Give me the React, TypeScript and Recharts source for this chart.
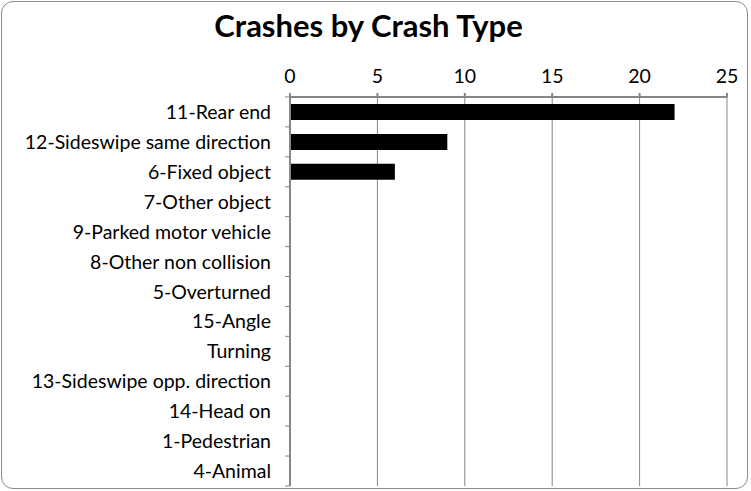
import React from 'react';
import { BarChart, Bar, XAxis, YAxis, CartesianGrid } from 'recharts';

const crashTypes = [
  '11-Rear end',
  '12-Sideswipe same direction',
  '6-Fixed object',
  '7-Other object',
  '9-Parked motor vehicle',
  '8-Other non collision',
  '5-Overturned',
  '15-Angle',
  'Turning',
  '13-Sideswipe opp. direction',
  '14-Head on',
  '1-Pedestrian',
  '4-Animal',
];
const crashCounts = [22, 9, 6, 0, 0, 0, 0, 0, 0, 0, 0, 0, 0];
const valueTicks = [0, 5, 10, 15, 20, 25];

const data = crashTypes.map((name, i) => ({ name, value: crashCounts[i] }));

const FONT = 'Lato, "Open Sans", sans-serif';
const AXIS_GRAY = '#868686';
const LABEL_SIZE = 19.5;

// Excel draws the category ticks between rows, not at the label
const CategoryTick = (props: any) => {
  const { x, y, payload, index, visibleTicksCount } = props;
  const band = 30;
  return (
    <g>
      <text x={x} y={y} dy={7} textAnchor="end" fontSize={LABEL_SIZE} fontFamily={FONT} fill="#000">
        {payload.value}
      </text>
      <line x1={x + 14} x2={x + 19} y1={y - band / 2} y2={y - band / 2} stroke={AXIS_GRAY} />
      {index === visibleTicksCount - 1 && (
        <line x1={x + 14} x2={x + 19} y1={y + band / 2} y2={y + band / 2} stroke={AXIS_GRAY} />
      )}
    </g>
  );
};

export default function App() {
  return (
    <div style={{ position: 'absolute', left: 0, top: 0, width: 751, height: 491, background: '#fff' }}>
      <div
        style={{
          position: 'absolute',
          left: 1,
          top: 1,
          width: 747,
          height: 488,
          border: '1px solid #8c8c8c',
          borderRadius: 12,
          boxSizing: 'border-box',
        }}
      />
      <div
        style={{
          position: 'absolute',
          left: 0,
          top: 6,
          width: 737,
          textAlign: 'center',
          fontFamily: FONT,
          fontWeight: 'bold',
          fontSize: 31,
          color: '#000',
        }}
      >
        Crashes by Crash Type
      </div>
      <BarChart
        width={751}
        height={491}
        data={data}
        layout="vertical"
        margin={{ top: 0, right: 24, bottom: 5, left: 0 }}
        barSize={16}
        style={{ position: 'absolute', left: 0, top: 0 }}
      >
        <CartesianGrid horizontal={false} stroke={AXIS_GRAY} strokeWidth={1} />
        <XAxis
          type="number"
          orientation="top"
          domain={[0, 25]}
          ticks={valueTicks}
          height={97}
          stroke={AXIS_GRAY}
          strokeWidth={2}
          tickSize={4}
          tickMargin={10}
          tick={{ fill: '#000', fontSize: LABEL_SIZE, fontFamily: FONT }}
          interval={0}
        />
        <YAxis
          type="category"
          dataKey="name"
          width={290}
          stroke={AXIS_GRAY}
          strokeWidth={2}
          tickLine={false}
          tickSize={0}
          tickMargin={19}
          interval={0}
          tick={<CategoryTick />}
        />
        <Bar dataKey="value" fill="#000" isAnimationActive={false} />
      </BarChart>
    </div>
  );
}
